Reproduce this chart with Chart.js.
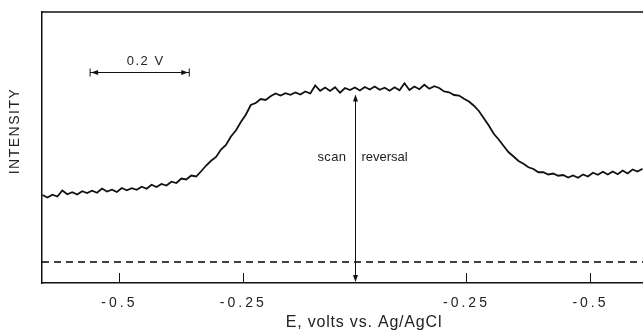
<!DOCTYPE html>
<html>
<head>
<meta charset="utf-8">
<script src="https://cdn.jsdelivr.net/npm/chart.js@4.4.1/dist/chart.umd.min.js"></script>
<style>
    html, body { margin: 0; padding: 0; background: #fff; }
    canvas { display: block; }
</style>
</head>
<body>
<canvas id="intensityChart" width="643" height="331"></canvas>
<script>
// scan position in mV measured from the scan reversal point
const scanPositions = [
    -630, -620, -610, -600, -590, -580, -570, -560, -550, -540,
    -530, -520, -510, -500, -490, -480, -470, -460, -450, -440,
    -430, -420, -410, -400, -390, -380, -370, -360, -350, -340,
    -330, -320, -310, -300, -290, -280, -270, -260, -250, -240,
    -230, -220, -210, -200, -190, -180, -170, -160, -150, -140,
    -130, -120, -110, -100, -90, -80, -70, -60, -50, -40,
    -30, -20, -10, 0, 10, 20, 30, 40, 50, 60,
    70, 80, 90, 100, 110, 120, 130, 140, 150, 160,
    170, 180, 190, 200, 210, 220, 230, 240, 250, 260,
    270, 280, 290, 300, 310, 320, 330, 340, 350, 360,
    370, 380, 390, 400, 410, 420, 430, 440, 450, 460,
    470, 480, 490, 500, 510, 520, 530, 540, 550, 560,
    570, 580
];
const intensities = [
    26.8, 25.8, 26.9, 26.2, 28.6, 27.1, 27.9, 27.0, 28.3, 27.6,
    28.5, 27.7, 29.4, 28.2, 28.9, 28.0, 29.6, 28.7, 29.5, 28.9,
    30.1, 29.3, 30.9, 30.0, 31.2, 30.6, 32.1, 31.6, 33.4, 33.0,
    34.6, 34.2, 36.3, 38.6, 40.5, 42.0, 45.0, 46.8, 50.2, 52.6,
    56.0, 58.9, 62.8, 63.6, 65.2, 64.8, 66.3, 67.4, 66.6, 67.5,
    66.9, 67.8, 67.0, 68.2, 67.4, 70.6, 68.5, 69.8, 68.4, 69.9,
    67.7, 69.6, 68.8, 69.8, 68.6, 70.0, 69.0, 70.2, 68.9, 69.7,
    68.5, 69.9, 68.7, 71.5, 68.8, 70.2, 69.1, 70.9, 69.3, 70.3,
    69.6, 68.2, 67.9, 66.8, 66.6, 65.3, 64.2, 62.5, 60.4, 57.5,
    54.6, 51.3, 49.0, 46.4, 43.9, 42.2, 40.4, 39.3, 37.9, 37.2,
    35.9, 35.9, 35.0, 35.4, 34.5, 34.8, 33.8, 34.6, 33.7, 35.0,
    34.2, 35.7, 34.9, 36.1, 35.0, 36.2, 35.1, 36.6, 35.4, 37.0,
    36.2, 37.3
];

// zero-intensity reference (dashed)
const baselineX = [-631, 581];
const baselineY = [0, 0];

// E axis: the scan runs out and back, so potentials repeat
const tickValues = [-475, -225, 225, 475];
const tickLabels = ['-0.5', '-0.25', '-0.25', '-0.5'];

// 0.2 V scale bar and reversal marker, in data units
const scaleBarFrom = -534;
const scaleBarTo = -334;
const scaleBarLevel = 76;
const reversalAt = 0;
const reversalTop = 67;

const INK = '#111';

function drawArrowHead(ctx, x, y, dx, dy) {
    // dx, dy: unit direction the arrow points to
    const len = 7;
    const half = 2.5;
    ctx.beginPath();
    ctx.moveTo(x, y);
    ctx.lineTo(x - dx * len - dy * half, y - dy * len + dx * half);
    ctx.lineTo(x - dx * len + dy * half, y - dy * len - dx * half);
    ctx.closePath();
    ctx.fill();
}

function line(ctx, x1, y1, x2, y2) {
    ctx.beginPath();
    ctx.moveTo(x1, y1);
    ctx.lineTo(x2, y2);
    ctx.stroke();
}

const spacingPlugin = {
    id: 'spacing',
    beforeDraw(chart) {
        chart.ctx.letterSpacing = '3px';
    },
    afterDraw(chart) {
        chart.ctx.letterSpacing = '0px';
    }
};

const annotationPlugin = {
    id: 'annotations',
    afterDraw(chart) {
        const { ctx, chartArea } = chart;
        const xs = chart.scales.x;
        const ys = chart.scales.y;
        ctx.save();
        ctx.strokeStyle = INK;
        ctx.fillStyle = INK;

        // top frame line
        ctx.lineWidth = 1.5;
        line(ctx, chartArea.left, chartArea.top, chartArea.right, chartArea.top);

        // tick marks point inwards
        ctx.lineWidth = 1;
        tickValues.forEach(v => {
            const px = Math.round(xs.getPixelForValue(v)) + 0.5;
            line(ctx, px, chartArea.bottom, px, chartArea.bottom - 10);
        });

        // 0.2 V scale bar
        const bx1 = xs.getPixelForValue(scaleBarFrom);
        const bx2 = xs.getPixelForValue(scaleBarTo);
        const by = Math.round(ys.getPixelForValue(scaleBarLevel)) + 0.5;
        line(ctx, bx1, by, bx2, by);
        line(ctx, bx1, by - 4, bx1, by + 4);
        line(ctx, bx2, by - 4, bx2, by + 4);
        drawArrowHead(ctx, bx1 + 1, by, -1, 0);
        drawArrowHead(ctx, bx2 - 1, by, 1, 0);
        ctx.font = '13px "Liberation Sans", Arial, sans-serif';
        ctx.letterSpacing = '1.5px';
        ctx.textAlign = 'center';
        ctx.textBaseline = 'middle';
        ctx.fillStyle = '#222';
        ctx.fillText('0.2 V', (bx1 + bx2) / 2 + 6, by - 11);

        // scan reversal marker
        ctx.fillStyle = INK;
        const rx = Math.round(xs.getPixelForValue(reversalAt)) + 0.5;
        const rTop = ys.getPixelForValue(reversalTop);
        const rBottom = chartArea.bottom - 1;
        line(ctx, rx, rTop + 2, rx, rBottom - 2);
        drawArrowHead(ctx, rx, rTop, 0, -1);
        drawArrowHead(ctx, rx, rBottom, 0, 1);
        ctx.font = '13px "Liberation Sans", Arial, sans-serif';
        ctx.letterSpacing = '0.4px';
        ctx.fillStyle = '#222';
        ctx.textAlign = 'right';
        ctx.fillText('scan', rx - 9, 157);
        ctx.textAlign = 'left';
        ctx.letterSpacing = '0px';
        ctx.fillText('reversal', rx + 6, 157);

        // axis titles
        ctx.font = '16px "Liberation Sans", Arial, sans-serif';
        ctx.letterSpacing = '0.8px';
        ctx.textAlign = 'center';
        ctx.fillText('E, volts vs. Ag/AgCl', 364, 323);

        ctx.save();
        ctx.translate(15, 131);
        ctx.rotate(-Math.PI / 2);
        ctx.font = '14px "Liberation Sans", Arial, sans-serif';
        ctx.letterSpacing = '1.5px';
        ctx.fillText('INTENSITY', 0, 0);
        ctx.restore();

        ctx.restore();
    }
};

function buildChart() {
    const ctx = document.getElementById('intensityChart').getContext('2d');

    const traceData = scanPositions.map((x, i) => ({ x: x, y: intensities[i] }));
    const baselineData = baselineX.map((x, i) => ({ x: x, y: baselineY[i] }));

    window.intensityChart = new Chart(ctx, {
        type: 'line',
        data: {
            datasets: [
                {
                    label: 'intensity',
                    data: traceData,
                    borderColor: INK,
                    borderWidth: 1.8,
                    pointRadius: 0,
                    tension: 0,
                    fill: false
                },
                {
                    label: 'zero',
                    data: baselineData,
                    borderColor: '#000',
                    borderWidth: 1.3,
                    borderDash: [7, 5],
                    pointRadius: 0,
                    fill: false
                }
            ]
        },
        options: {
            responsive: false,
            animation: false,
            layout: { padding: { top: 12, right: 0, left: 0, bottom: 0 } },
            plugins: {
                legend: { display: false },
                tooltip: { enabled: false }
            },
            scales: {
                x: {
                    type: 'linear',
                    min: -631,
                    max: 581,
                    grid: { display: false },
                    border: { display: true, color: INK, width: 1.5 },
                    afterBuildTicks: scale => {
                        scale.ticks = tickValues.map(v => ({ value: v }));
                    },
                    afterFit: scale => { scale.height = 48; },
                    ticks: {
                        autoSkip: false,
                        maxRotation: 0,
                        padding: 4,
                        color: '#222',
                        font: { family: '"Liberation Sans", Arial, sans-serif', size: 14 },
                        callback: function(value, index) {
                            return tickLabels[index];
                        }
                    }
                },
                y: {
                    type: 'linear',
                    min: -8.4,
                    max: 100,
                    grid: { display: false },
                    border: { display: true, color: INK, width: 1.5 },
                    ticks: { display: false },
                    afterFit: scale => { scale.width = 42; }
                }
            }
        },
        plugins: [spacingPlugin, annotationPlugin]
    });
}

document.addEventListener('DOMContentLoaded', () => {
    buildChart();
});
</script>
</body>
</html>
